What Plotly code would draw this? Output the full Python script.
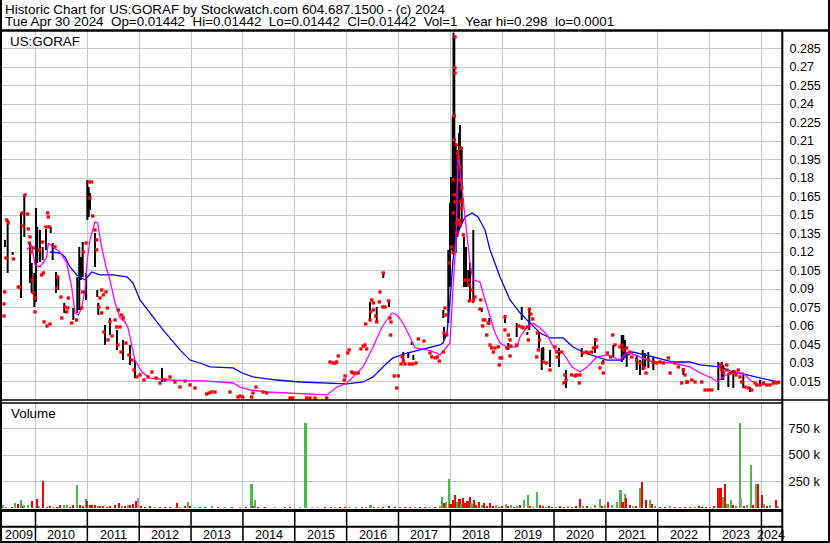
import plotly.graph_objects as go

# ---------------- data ----------------
# time in decimal years
bar_t = [2009.411, 2009.463, 2009.560, 2009.720, 2009.784, 2009.894, 2009.926, 2009.977, 2010.009, 2010.034,
         2010.086, 2010.138, 2010.202, 2010.293, 2010.331, 2010.395, 2010.439, 2010.555, 2010.729, 2010.806,
         2010.844, 2010.877, 2010.910, 2010.974, 2010.999, 2011.026, 2011.051, 2011.147, 2011.191, 2011.211,
         2011.340, 2011.436, 2011.571, 2011.687, 2011.822, 2011.918, 2012.439, 2016.451, 2016.580, 2016.707,
         2016.817, 2017.093, 2017.190, 2017.255, 2017.286, 2017.865, 2017.878, 2017.961, 2017.994, 2018.013,
         2018.046, 2018.061, 2018.077, 2018.104, 2018.135, 2018.167, 2018.186, 2018.219, 2018.263, 2018.302,
         2018.346, 2018.379, 2018.443, 2018.605, 2018.752, 2019.054, 2019.118, 2019.280, 2019.377, 2019.485,
         2019.523, 2019.710, 2019.762, 2019.793, 2019.922, 2020.096, 2020.231, 2020.534, 2020.790, 2020.950,
         2021.143, 2021.305, 2021.336, 2021.369, 2021.401, 2021.594, 2021.658, 2021.710, 2021.755, 2021.818,
         2021.915, 2022.493, 2023.168, 2023.234, 2023.265, 2023.361, 2023.457, 2023.650, 2023.779, 2023.972]
bar_hi = [0.1298, 0.146, 0.12, 0.1517, 0.1663, 0.1273, 0.1111, 0.103, 0.1557, 0.1403,
          0.1379, 0.1241, 0.1387, 0.1403, 0.1273, 0.1038, 0.0989, 0.0787, 0.0746, 0.0998,
          0.1241, 0.116, 0.1281, 0.103, 0.1784, 0.1727, 0.1679, 0.1354, 0.0892, 0.0787,
          0.0608, 0.0665, 0.0568, 0.0487, 0.0446, 0.0324, 0.026, 0.0795, 0.0754, 0.1038,
          0.0795, 0.0389, 0.0389, 0.047, 0.0365, 0.073, 0.0592, 0.1217, 0.1598, 0.1809,
          0.2295, 0.298, 0.2944, 0.2084, 0.2028, 0.2165, 0.223, 0.2052, 0.1322, 0.1241,
          0.1054, 0.1111, 0.1379, 0.0746, 0.0665, 0.0689, 0.0462, 0.0624, 0.0754, 0.0551,
          0.073, 0.0543, 0.0422, 0.043, 0.0406, 0.0422, 0.0243, 0.0422, 0.0503, 0.0324,
          0.0446, 0.0527, 0.0527, 0.0487, 0.0389, 0.0365, 0.0324, 0.0406, 0.0381, 0.0389,
          0.0349, 0.026, 0.0308, 0.0308, 0.0284, 0.0219, 0.0243, 0.0203, 0.0105, 0.0162]
bar_lo = [0.1241, 0.103, 0.1176, 0.0827, 0.1322, 0.0949, 0.0868, 0.0754, 0.0795, 0.1111,
          0.1119, 0.1135, 0.1217, 0.1354, 0.1135, 0.0868, 0.0892, 0.0706, 0.0649, 0.0706,
          0.073, 0.0973, 0.0998, 0.0811, 0.146, 0.1484, 0.1541, 0.1079, 0.0835, 0.0689,
          0.0446, 0.0527, 0.0406, 0.0324, 0.0284, 0.0178, 0.0146, 0.0649, 0.0633, 0.0989,
          0.0754, 0.0324, 0.0341, 0.0446, 0.0324, 0.0665, 0.0487, 0.0624, 0.0916, 0.1217,
          0.1192, 0.1217, 0.1192, 0.1192, 0.1322, 0.1379, 0.1598, 0.1435, 0.0916, 0.0916,
          0.0916, 0.0811, 0.0787, 0.0714, 0.0608, 0.0624, 0.0406, 0.0511, 0.0649, 0.0527,
          0.0568, 0.0422, 0.0243, 0.0324, 0.0268, 0.0268, 0.0097, 0.0349, 0.0381, 0.03,
          0.0349, 0.0308, 0.0324, 0.0349, 0.0268, 0.0243, 0.0203, 0.0243, 0.0268, 0.026,
          0.0243, 0.0203, 0.0081, 0.0162, 0.0162, 0.0105, 0.0097, 0.0097, 0.0065, 0.0122]

close_t = [2009.444, 2009.475, 2009.431, 2009.406, 2009.392, 2009.392, 2009.572, 2009.668, 2009.701, 2009.797,
           2009.745, 2009.849, 2009.753, 2009.861, 2009.894, 2009.880, 2009.913, 2009.957, 2010.073, 2010.139,
           2010.202, 2010.247, 2010.235, 2010.266, 2010.119, 2010.150, 2009.957, 2009.938, 2009.990, 2009.990,
           2010.376, 2010.428, 2010.408, 2010.491, 2010.632, 2010.569, 2010.621, 2010.505, 2010.601, 2010.698,
           2010.794, 2010.891, 2010.910, 2010.922, 2010.974, 2011.037, 2011.084, 2011.051, 2011.103, 2011.147,
           2011.180, 2011.180, 2011.276, 2011.307, 2011.244, 2011.359, 2011.384, 2011.219, 2011.276, 2011.533,
           2011.662, 2011.693, 2011.629, 2011.566, 2011.436, 2011.597, 2010.164, 2010.222, 2010.280,
           2011.321, 2011.398, 2011.475, 2011.591, 2011.649, 2011.745, 2011.803, 2011.861, 2011.899, 2011.957,
           2012.015, 2012.092, 2012.169, 2012.246, 2012.324, 2012.401, 2012.497, 2012.594, 2012.690, 2012.787,
           2012.883, 2012.979, 2013.076, 2013.301, 2013.346, 2013.398, 2013.462, 2013.751, 2013.905, 2013.944,
           2013.996, 2014.169, 2014.194, 2014.252, 2014.387, 2014.459, 2014.908, 2014.960, 2015.230, 2015.294,
           2015.390, 2015.616,
           2015.679, 2015.737, 2015.776, 2015.808, 2015.839, 2015.969, 2015.955, 2016.021, 2016.046, 2016.098,
           2016.123, 2016.162, 2016.225, 2016.277, 2016.322, 2016.354, 2016.387, 2016.368, 2016.451, 2016.464,
           2016.484, 2016.515, 2016.515, 2016.561, 2016.580, 2016.630, 2016.644, 2016.696, 2016.707, 2016.740,
           2016.811, 2016.836, 2016.856, 2016.850, 2016.919, 2016.966, 2016.997, 2017.049, 2017.074, 2017.093,
           2017.126, 2017.209, 2017.274, 2017.338, 2017.382, 2017.492, 2017.608, 2017.641, 2017.705, 2017.749,
           2017.788,
           2018.090, 2018.090, 2018.090, 2018.077, 2018.077, 2018.123, 2018.134, 2018.200, 2018.154, 2018.186,
           2018.057, 2018.077, 2018.090, 2018.173, 2018.219, 2018.200, 2018.231, 2018.219, 2018.173, 2018.186,
           2018.057, 2017.897, 2017.917, 2017.878, 2017.930, 2017.865, 2017.980, 2018.013, 2018.057, 2018.123,
           2018.123, 2018.186, 2018.250, 2018.283, 2018.346, 2018.366, 2018.412, 2018.366, 2018.476, 2018.443,
           2018.586, 2018.572, 2018.636, 2018.669, 2018.624, 2018.732, 2018.701, 2018.765, 2018.798, 2018.862,
           2018.829, 2018.925, 2018.958, 2018.991, 2018.944, 2019.054, 2019.054, 2019.118, 2019.151, 2019.164,
           2019.087, 2019.151, 2019.280, 2019.312, 2019.377, 2019.408, 2019.485, 2019.523, 2019.550, 2019.589,
           2019.504, 2019.678, 2019.716, 2019.697, 2019.666, 2019.793, 2019.858, 2019.922,
           2020.018, 2020.051, 2020.063, 2020.147, 2020.211, 2020.231, 2020.192, 2020.341, 2020.405, 2020.437,
           2020.487, 2020.501, 2020.553, 2020.617, 2020.661, 2020.726, 2020.758, 2020.823, 2020.809, 2020.886,
           2020.950, 2020.939, 2021.027, 2021.093, 2021.132, 2021.176, 2021.272, 2021.305, 2021.336, 2021.401,
           2021.466, 2021.498, 2021.594, 2021.658, 2021.735, 2021.774, 2021.818, 2021.915, 2021.980, 2022.044,
           2022.108, 2022.204, 2022.237, 2022.333, 2022.397, 2022.493, 2022.526, 2022.570, 2022.462, 2022.559,
           2022.655, 2022.719, 2022.848, 2022.912, 2022.975, 2023.041, 2023.188, 2023.215, 2023.234, 2023.265,
           2023.330, 2023.330, 2023.394, 2023.490, 2023.509, 2023.554, 2023.586, 2023.619, 2023.683, 2023.747,
           2023.812, 2023.876, 2023.909, 2023.973, 2024.036, 2024.101, 2024.165, 2024.229, 2024.294, 2024.330]
close_p = [0.146, 0.1435, 0.1152, 0.0876, 0.0779, 0.0681, 0.1144, 0.0916, 0.0916, 0.1663,
           0.1517, 0.1508, 0.1411, 0.1387, 0.1322, 0.1273, 0.12, 0.1233, 0.1217, 0.1281,
           0.1403, 0.1484, 0.1517, 0.1403, 0.1014, 0.103, 0.0868, 0.0973, 0.0827, 0.0714,
           0.1241, 0.0998, 0.0908, 0.0835, 0.0827, 0.0754, 0.0746, 0.0665, 0.0714, 0.0624,
           0.0649, 0.0746, 0.0876, 0.12, 0.1273, 0.1768, 0.1768, 0.1638, 0.1492, 0.1379,
           0.1298, 0.1217, 0.0892, 0.0852, 0.0827, 0.0876, 0.0746, 0.0754, 0.0706, 0.0649,
           0.0689, 0.0665, 0.0592, 0.0592, 0.0633, 0.073, 0.0633, 0.06, 0.0616,
           0.0551, 0.0487, 0.0519, 0.0446, 0.0389, 0.0462, 0.0365, 0.0324, 0.0243, 0.0187,
           0.0203, 0.0162, 0.0187, 0.0227, 0.0178, 0.0138, 0.0162, 0.0187, 0.0146, 0.0105,
           0.0154, 0.0122, 0.0097, 0.0049, 0.0057, 0.0065, 0.0065, 0.0065, 0.0024, 0.0032,
           0.0024, 0.0024, 0.0057, 0.0105, 0.0065, 0.0057, 0.0016, 0.0016, 0.0016, 0.0016,
           0.0016, 0.0016,
           0.0308, 0.03, 0.03, 0.0308, 0.0357, 0.0195, 0.0162, 0.0381, 0.0406, 0.0227,
           0.0219, 0.0219, 0.0219, 0.0414, 0.0438, 0.0446, 0.0414, 0.0616, 0.0649, 0.0714,
           0.0811, 0.0787, 0.073, 0.0681, 0.0633, 0.0795, 0.0876, 0.0754, 0.103, 0.0754,
           0.0803, 0.0665, 0.0633, 0.0527, 0.0195, 0.0097, 0.0195, 0.0292, 0.0349, 0.0316,
           0.0292, 0.0292, 0.0292, 0.03, 0.0495, 0.0478, 0.0381, 0.0349, 0.0341, 0.0349,
           0.0316,
           0.2944, 0.2693, 0.2652, 0.2303, 0.2109, 0.2068, 0.2003, 0.2044, 0.1963, 0.189,
           0.1784, 0.1663, 0.1606, 0.1784, 0.1719, 0.1606, 0.1622, 0.1557, 0.146, 0.1419,
           0.1517, 0.0746, 0.0689, 0.0543, 0.0527, 0.0389, 0.1111, 0.1241, 0.1192, 0.1435,
           0.1354, 0.1435, 0.1338, 0.0973, 0.0973, 0.0933, 0.0892, 0.0803, 0.0835, 0.0811,
           0.0811, 0.0738, 0.0649, 0.0649, 0.06, 0.0624, 0.0527, 0.0446, 0.0422, 0.0422,
           0.0389, 0.043, 0.0341, 0.0341, 0.0284, 0.0673, 0.0568, 0.0527, 0.0487, 0.0438,
           0.0422, 0.0357, 0.0446, 0.06, 0.0592, 0.0584, 0.0592, 0.0738, 0.0697, 0.0657,
           0.0487, 0.0543, 0.0487, 0.0406, 0.0349, 0.0308, 0.03, 0.0243,
           0.043, 0.0389, 0.0349, 0.0389, 0.0203, 0.0162, 0.0138, 0.0203, 0.0195, 0.0203,
           0.0138, 0.0203, 0.0381, 0.0389, 0.0381, 0.0389, 0.0422, 0.043, 0.0487, 0.026,
           0.0219, 0.03, 0.0381, 0.0349, 0.0527, 0.0446, 0.043, 0.0446, 0.0406, 0.0422,
           0.0389, 0.0349, 0.0324, 0.03, 0.026, 0.0219, 0.0324, 0.0308, 0.03, 0.0308,
           0.03, 0.0341, 0.0219, 0.03, 0.0268, 0.0243, 0.0203, 0.0146, 0.0138, 0.0146,
           0.0162, 0.0146, 0.0146, 0.0081, 0.0081, 0.0081, 0.0268, 0.0284, 0.0243, 0.0219,
           0.0284, 0.0243, 0.0219, 0.0227, 0.0203, 0.0243, 0.0187, 0.0146, 0.0105, 0.0097,
           0.0081, 0.0138, 0.0122, 0.0122, 0.0138, 0.0122, 0.0122, 0.0138, 0.0138, 0.0144]

ma_short_t = [2009.830, 2009.926, 2009.990, 2010.086, 2010.216, 2010.247, 2010.337, 2010.472, 2010.601, 2010.698,
              2010.761, 2010.825, 2010.891, 2010.954, 2010.999, 2011.051, 2011.147, 2011.199, 2011.276, 2011.359,
              2011.436, 2011.533, 2011.629, 2011.726, 2011.784, 2011.918, 2012.054, 2012.208, 2012.594, 2012.979,
              2013.172, 2013.809, 2013.944, 2014.137, 2014.464, 2014.966, 2015.621, 2015.815, 2016.007, 2016.316,
              2016.509, 2016.682, 2016.875, 2016.972, 2017.087, 2017.222, 2017.319, 2017.550, 2017.743, 2017.801,
              2017.994, 2018.052, 2018.109, 2018.129, 2018.154, 2018.186, 2018.244, 2018.283, 2018.321, 2018.379,
              2018.437, 2018.572, 2018.669, 2018.765, 2018.862, 2018.958, 2019.093, 2019.286, 2019.344, 2019.479,
              2019.595, 2019.730, 2019.865, 2020.019, 2020.173, 2020.347, 2020.501, 2020.636, 2020.829, 2021.022,
              2021.273, 2021.408, 2021.658, 2021.909, 2022.295, 2022.623, 2022.815, 2023.046, 2023.143, 2023.259,
              2023.394, 2023.644, 2023.779, 2023.934, 2024.165, 2024.319]
ma_short_v = [0.1217, 0.1257, 0.1095, 0.1079, 0.116, 0.1273, 0.1241, 0.12, 0.1111, 0.0916,
              0.0706, 0.0689, 0.0746, 0.0892, 0.1135, 0.1298, 0.1444, 0.1435, 0.1241, 0.1079,
              0.0973, 0.0787, 0.0665, 0.0633, 0.0584, 0.0324, 0.0227, 0.0178, 0.0162, 0.0154,
              0.0157, 0.0138, 0.0105, 0.0081, 0.0065, 0.0057, 0.0041, 0.0105, 0.0138, 0.0268,
              0.043, 0.0592, 0.0706, 0.0689, 0.0624, 0.0511, 0.0422, 0.0406, 0.0381, 0.0365,
              0.0462, 0.0916, 0.1298, 0.1622, 0.2028, 0.1865, 0.1646, 0.1484, 0.1322, 0.1111,
              0.0973, 0.0957, 0.0811, 0.0673, 0.0543, 0.0462, 0.043, 0.043, 0.0511, 0.0592,
              0.0624, 0.0584, 0.0527, 0.0406, 0.0381, 0.0268, 0.0227, 0.0268, 0.0349, 0.0365,
              0.0324, 0.0389, 0.0349, 0.0308, 0.03, 0.0268, 0.0219, 0.0178, 0.0146, 0.0187,
              0.0219, 0.0219, 0.0162, 0.0122, 0.0122, 0.0146]

ma_long_t = [2010.279, 2010.472, 2010.569, 2010.665, 2010.794, 2010.954, 2011.084, 2011.244, 2011.494, 2011.764,
             2011.880, 2012.015, 2012.208, 2012.459, 2012.787, 2012.979, 2013.172, 2013.365, 2013.809, 2013.982,
             2014.194, 2014.657, 2015.101, 2015.621, 2016.007, 2016.316, 2016.509, 2016.779, 2016.894, 2017.164,
             2017.550, 2017.801, 2017.859, 2017.936, 2017.994, 2018.052, 2018.109, 2018.186, 2018.283, 2018.418,
             2018.534, 2018.669, 2018.765, 2018.958, 2019.151, 2019.344, 2019.537, 2019.730, 2019.922, 2020.173,
             2020.366, 2020.559, 2020.829, 2021.022, 2021.273, 2021.523, 2021.909, 2022.295, 2022.623, 2022.815,
             2023.201, 2023.452, 2023.722, 2023.972, 2024.165, 2024.319]
ma_long_v = [0.12, 0.1192, 0.116, 0.1079, 0.1014, 0.0973, 0.1038, 0.1014, 0.1014, 0.0998,
             0.0949, 0.0811, 0.0706, 0.0568, 0.0406, 0.0324, 0.03, 0.0268, 0.026, 0.0219,
             0.0187, 0.0162, 0.0146, 0.0138, 0.013, 0.0146, 0.0187, 0.03, 0.0341, 0.0381,
             0.0422, 0.0446, 0.0462, 0.0543, 0.0811, 0.1135, 0.1298, 0.1395, 0.1484, 0.1517,
             0.1484, 0.1379, 0.1217, 0.0998, 0.0811, 0.0706, 0.0624, 0.0543, 0.0503, 0.0503,
             0.043, 0.0389, 0.0349, 0.0324, 0.0324, 0.0389, 0.0349, 0.0308, 0.0308, 0.0284,
             0.0268, 0.0227, 0.0203, 0.0178, 0.0162, 0.0146]

vol_t = [2009.379, 2009.431, 2009.541, 2009.604, 2009.668, 2009.714, 2009.753, 2009.778, 2009.861, 2009.938,
         2010.023, 2010.067, 2010.139, 2010.216, 2010.279, 2010.337, 2010.408, 2010.472, 2010.549, 2010.607,
         2010.665, 2010.723, 2010.794, 2010.858, 2010.922, 2010.974, 2010.999, 2011.051, 2011.089, 2011.147,
         2011.205, 2011.244, 2011.302, 2011.379, 2011.436, 2011.533, 2011.610, 2011.668, 2011.726, 2011.789,
         2011.822, 2011.886, 2011.938, 2011.982, 2012.034, 2012.111, 2012.208, 2012.304, 2012.401, 2012.497,
         2012.594, 2012.729, 2012.787, 2012.883, 2012.941, 2012.979, 2013.076, 2013.172, 2013.268, 2013.404,
         2013.519, 2013.654, 2013.789, 2013.944, 2014.059, 2014.165, 2014.194, 2014.233, 2014.291, 2014.426,
         2014.619, 2014.812, 2014.908, 2015.101, 2015.207, 2015.236, 2015.332, 2015.448, 2015.583, 2015.699,
         2015.776, 2015.872, 2015.969, 2016.065, 2016.181, 2016.297, 2016.374, 2016.462, 2016.528, 2016.605,
         2016.702, 2016.817, 2016.933, 2017.029, 2017.126, 2017.222, 2017.319, 2017.415, 2017.512, 2017.608,
         2017.705, 2017.801, 2017.839, 2017.888, 2017.917, 2017.974, 2018.003, 2018.044, 2018.096, 2018.138,
         2018.177, 2018.206, 2018.248, 2018.293, 2018.331, 2018.372, 2018.409, 2018.453, 2018.495, 2018.553,
         2018.611, 2018.657, 2018.707, 2018.765, 2018.823, 2018.881, 2018.939, 2018.997, 2019.066, 2019.112,
         2019.170, 2019.228, 2019.286, 2019.344, 2019.421, 2019.494, 2019.537, 2019.595, 2019.677, 2019.729,
         2019.787, 2019.845, 2019.903, 2019.961, 2020.038, 2020.115, 2020.192, 2020.270, 2020.347, 2020.424,
         2020.495, 2020.559, 2020.636, 2020.713, 2020.790, 2020.883, 2020.925, 2020.983, 2021.041, 2021.118,
         2021.209, 2021.280, 2021.320, 2021.363, 2021.393, 2021.465, 2021.523, 2021.581, 2021.667, 2021.698,
         2021.772, 2021.851, 2021.890, 2021.947, 2022.044, 2022.140, 2022.237, 2022.333, 2022.430, 2022.526,
         2022.623, 2022.719, 2022.792, 2022.854, 2022.931, 2023.008, 2023.085, 2023.170, 2023.220, 2023.251,
         2023.303, 2023.345, 2023.405, 2023.451, 2023.509, 2023.579, 2023.606, 2023.663, 2023.721, 2023.793,
         2023.837, 2023.895, 2023.939, 2024.005, 2024.050, 2024.107, 2024.165, 2024.273, 2024.319]
vol_k = [24, 14, 14, 46, 40, 71, 15, 33, 33, 65,
         87, 20, 255, 14, 20, 8, 14, 25, 33, 30,
         14, 25, 214, 33, 20, 81, 65, 24, 30, 24,
         20, 15, 18, 10, 18, 24, 43, 20, 15, 33,
         24, 40, 65, 97, 20, 12, 15, 8, 10, 14,
         8, 43, 10, 18, 52, 20, 10, 12, 8, 18,
         8, 6, 10, 6, 8, 223, 20, 71, 8, 6,
         5, 8, 6, 5, 805, 14, 8, 5, 8, 14,
         10, 8, 6, 8, 6, 10, 12, 33, 12, 10,
         14, 20, 12, 10, 8, 12, 6, 10, 8, 6,
         12, 20, 103, 45, 60, 270, 40, 71, 119, 60,
         87, 40, 97, 50, 70, 103, 40, 71, 30, 52,
         25, 43, 20, 45, 15, 25, 12, 20, 40, 15,
         25, 12, 20, 30, 71, 119, 20, 12, 150, 25,
         15, 10, 20, 12, 8, 15, 10, 20, 12, 20,
         87, 15, 20, 12, 25, 81, 20, 30, 60, 25,
         55, 166, 60, 135, 97, 30, 20, 15, 192, 245,
         71, 78, 40, 15, 12, 8, 15, 10, 8, 12,
         6, 10, 20, 10, 8, 12, 20, 192, 192, 103,
         230, 40, 71, 25, 15, 805, 90, 20, 30, 404,
         25, 223, 230, 125, 40, 20, 30, 71, 15]
vol_dir = ['g', 'g', 'r', 'g', 'r', 'g', 'r', 'g', 'g', 'r',
           'r', 'g', 'r', 'r', 'r', 'g', 'r', 'r', 'g', 'g',
           'r', 'r', 'g', 'r', 'r', 'g', 'r', 'r', 'r', 'r',
           'g', 'r', 'r', 'r', 'r', 'r', 'r', 'g', 'r', 'g',
           'r', 'r', 'r', 'n', 'r', 'r', 'r', 'g', 'r', 'r',
           'r', 'r', 'g', 'r', 'g', 'r', 'n', 'r', 'r', 'g',
           'r', 'g', 'r', 'n', 'r', 'g', 'r', 'g', 'r', 'r',
           'n', 'r', 'r', 'n', 'g', 'n', 'n', 'n', 'r', 'r',
           'g', 'r', 'r', 'g', 'g', 'r', 'g', 'g', 'r', 'g',
           'r', 'r', 'r', 'g', 'r', 'r', 'g', 'r', 'r', 'g',
           'r', 'g', 'g', 'r', 'g', 'g', 'r', 'r', 'r', 'g',
           'r', 'g', 'r', 'r', 'r', 'r', 'g', 'r', 'r', 'r',
           'g', 'r', 'r', 'r', 'r', 'g', 'r', 'r', 'g', 'r',
           'g', 'r', 'g', 'r', 'g', 'g', 'r', 'g', 'g', 'r',
           'r', 'g', 'r', 'r', 'g', 'r', 'r', 'g', 'r', 'r',
           'r', 'g', 'r', 'g', 'g', 'g', 'r', 'g', 'r', 'g',
           'g', 'g', 'r', 'g', 'r', 'r', 'g', 'r', 'g', 'r',
           'r', 'g', 'r', 'g', 'r', 'r', 'g', 'r', 'g', 'r',
           'r', 'g', 'r', 'r', 'r', 'g', 'r', 'r', 'r', 'g',
           'r', 'g', 'g', 'r', 'g', 'g', 'n', 'r', 'g', 'g',
           'r', 'g', 'r', 'r', 'g', 'r', 'g', 'r', 'g']

price_ticks = [0.015, 0.03, 0.045, 0.06, 0.075, 0.09, 0.105, 0.12, 0.135, 0.15,
               0.165, 0.18, 0.195, 0.21, 0.225, 0.24, 0.255, 0.27, 0.285]
price_tick_text = ['0.015', '0.03', '0.045', '0.06', '0.075', '0.09', '0.105', '0.12', '0.135', '0.15',
                   '0.165', '0.18', '0.195', '0.21', '0.225', '0.24', '0.255', '0.27', '0.285']
vol_ticks = [250000, 500000, 750000]
vol_tick_text = ['250 k', '500 k', '750 k']
years = list(range(2009, 2025))
year_start = [2009.354] + [float(y) for y in range(2010, 2025)]
year_end = [float(y) for y in range(2010, 2025)] + [2024.377]

# ---------------- figure ----------------
FONT = "Liberation Sans, Arial, Helvetica, sans-serif"
GRID = "#c8c8c8"
W, H = 830, 543
ML, MR, MT, MB = 2, 49, 31, 34
PW, PH = W - ML - MR, H - MT - MB


def px(xp):
    return (xp - ML) / PW


def py(yp):
    return (H - MB - yp) / PH


fig = go.Figure()

# high-low bars
bx, by = [], []
for t, hi, lo in zip(bar_t, bar_hi, bar_lo):
    bx += [t, t, None]
    by += [lo, hi, None]
fig.add_trace(go.Scatter(x=bx, y=by, mode="lines", line=dict(color="black", width=2),
                         xaxis="x", yaxis="y", hoverinfo="skip"))

fig.add_trace(go.Scatter(x=ma_long_t, y=ma_long_v, mode="lines", line=dict(color="#0000ff", width=1.3),
                         xaxis="x", yaxis="y", hoverinfo="skip"))
fig.add_trace(go.Scatter(x=ma_short_t, y=ma_short_v, mode="lines", line=dict(color="#ff00ff", width=1.3),
                         xaxis="x", yaxis="y", hoverinfo="skip"))
fig.add_trace(go.Scatter(x=close_t, y=close_p, mode="markers",
                         marker=dict(symbol="square", size=3.3, color="#ff0000", line=dict(width=0)),
                         xaxis="x", yaxis="y", hoverinfo="skip"))

cmap = {'g': '#4cb84c', 'r': '#ff0000', 'n': '#a0a0a0'}
fig.add_trace(go.Bar(x=vol_t, y=[v * 1000 for v in vol_k], width=0.042,
                     marker=dict(color=[cmap[d] for d in vol_dir], line=dict(width=0)),
                     xaxis="x2", yaxis="y2", hoverinfo="skip"))

xcommon = dict(range=[2009.354, 2024.377], tickvals=list(range(2010, 2025)), showticklabels=False,
               showgrid=True, gridcolor=GRID, gridwidth=1, zeroline=False, showline=False,
               ticks="", fixedrange=True)

fig.update_layout(
    width=W, height=H,
    margin=dict(l=ML, r=MR, t=MT, b=MB, autoexpand=False),
    paper_bgcolor="white", plot_bgcolor="white",
    showlegend=False, hovermode=False, bargap=0,
    font=dict(family=FONT, color="black"),
    xaxis=dict(domain=[0, 1], anchor="y", **xcommon),
    xaxis2=dict(domain=[0, 1], anchor="y2", matches="x", **xcommon),
    yaxis=dict(domain=[py(400), 1], range=[0, (400 - MT) * 0.015 / 18.5], side="right",
               tickmode="array", tickvals=price_ticks, ticktext=price_tick_text, showgrid=True,
               gridcolor=GRID, zeroline=False, showline=False, ticks="outside", ticklen=5,
               tickcolor="white", tickfont=dict(size=12.5, family=FONT, color="black"),
               automargin=False, fixedrange=True),
    yaxis2=dict(domain=[0, py(402)], range=[-9400, 1000000], side="right",
                tickmode="array", tickvals=vol_ticks, ticktext=vol_tick_text, showgrid=True,
                gridcolor=GRID, zeroline=False, showline=False, ticks="outside", ticklen=4,
                tickcolor="white", tickfont=dict(size=12.8, family=FONT, color="black"),
                automargin=False, fixedrange=True),
)

shapes = []


def hline(yp, x0p, x1p, w):
    shapes.append(dict(type="line", xref="paper", yref="paper", x0=px(x0p), x1=px(x1p),
                       y0=py(yp), y1=py(yp), line=dict(color="black", width=w)))


def vline(xp, y0p, y1p, w):
    shapes.append(dict(type="line", xref="paper", yref="paper", x0=px(xp), x1=px(xp),
                       y0=py(y0p), y1=py(y1p), line=dict(color="black", width=w)))


hline(30.5, 0, 830, 2.5)      # under the header
hline(400, 0, 830, 1.5)       # bottom of price panel
hline(403, 0, 782, 1.5)       # top of volume panel
hline(510.5, 0, 782, 3)       # bottom of volume panel
hline(526.7, 0, 782, 2)       # between the two date rows
hline(542, 0, 830, 2)         # bottom border
vline(1, 0, 543, 2)           # left border
vline(829, 0, 543, 2)         # right border
vline(782.3, 30, 543, 2)      # right axis line
for yr in range(2010, 2025):
    shapes.append(dict(type="line", xref="x", yref="paper", x0=yr, x1=yr,
                       y0=py(510.5), y1=py(542), line=dict(color="black", width=1.5)))
fig.update_layout(shapes=shapes)

ann = []
ann.append(dict(text="Historic Chart for US:GORAF by Stockwatch.com 604.687.1500 - (c) 2024",
                x=px(3), y=py(9), xref="paper", yref="paper", xanchor="left", yanchor="middle",
                showarrow=False, font=dict(size=13.4, family=FONT, color="black")))
sp = "\u00a0\u00a0"
line2 = ("Tue Apr 30 2024" + sp + "Op=0.01442" + sp + "Hi=0.01442" + sp + "Lo=0.01442" + sp +
         "Cl=0.01442" + sp + "Vol=1" + sp + "Year hi=0.298" + sp + "lo=0.0001")
ann.append(dict(text=line2, x=px(3), y=py(22), xref="paper", yref="paper", xanchor="left",
                yanchor="middle", showarrow=False, font=dict(size=13.4, family=FONT, color="black")))
ann.append(dict(text="US:GORAF", x=px(8), y=py(42), xref="paper", yref="paper", xanchor="left",
                yanchor="middle", showarrow=False, font=dict(size=13.4, family=FONT, color="black")))
ann.append(dict(text="Volume", x=px(9), y=py(413), xref="paper", yref="paper", xanchor="left",
                yanchor="middle", showarrow=False, font=dict(size=13.4, family=FONT, color="black")))
for yr, s, e in zip(years, year_start, year_end):
    ann.append(dict(text=str(yr), x=(s + e) / 2, y=py(535), xref="x", yref="paper",
                    xanchor="center", yanchor="middle", showarrow=False,
                    font=dict(size=12.6, family=FONT, color="black")))
fig.update_layout(annotations=ann)

fig.write_html("out.html", config={"displayModeBar": False, "staticPlot": True},
               post_script="document.body.style.margin='0px';document.body.style.overflow='hidden';")
